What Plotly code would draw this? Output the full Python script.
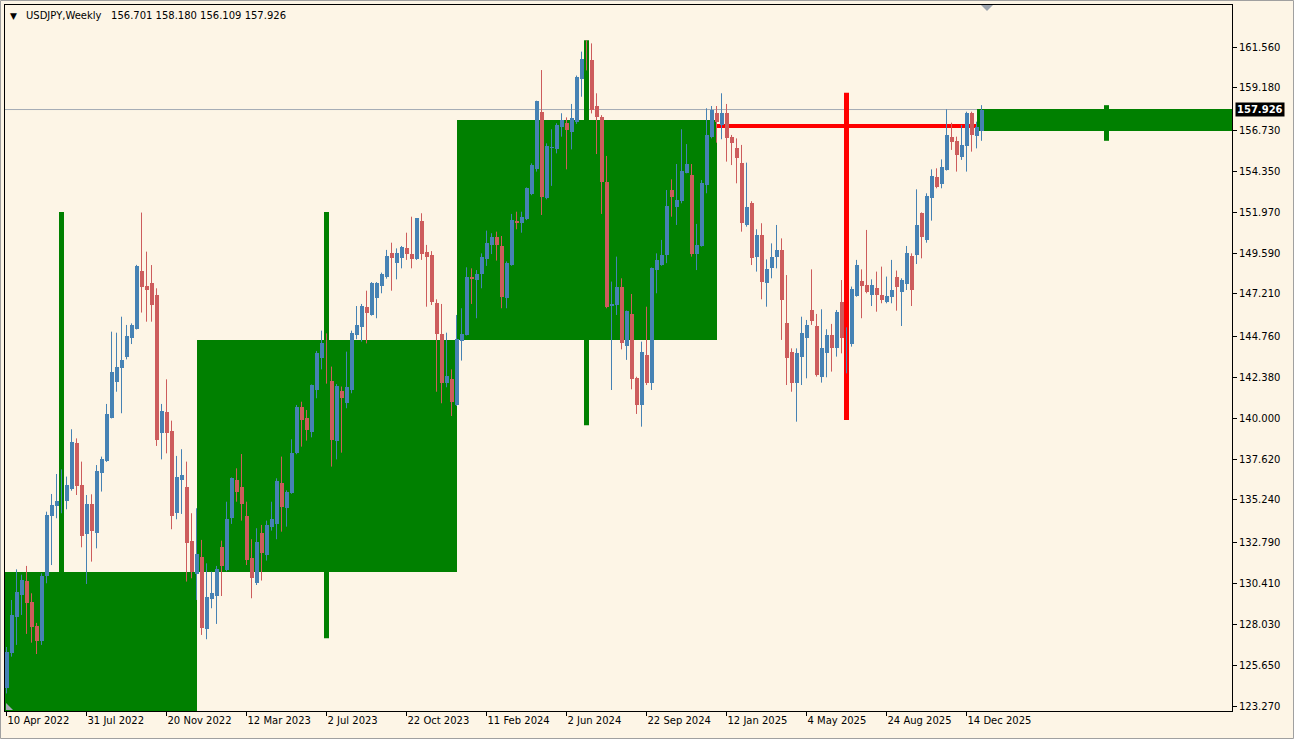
import plotly.graph_objects as go
import pandas as pd

# ---------------- data ----------------
symbol = "USDJPY"
timeframe = "Weekly"
start_date = "2022-04-10"   # first weekly bar on the chart

opens = [124.30, 126.35, 128.46, 129.72, 130.53, 129.30, 127.92, 127.07, 130.83, 134.31,
         134.89, 135.05, 135.20, 135.90, 138.53, 136.11, 133.27, 135.01, 133.34, 136.83,
         137.51, 140.02, 142.08, 142.89, 143.53, 144.63, 145.20, 148.55, 147.67, 147.83,
         147.15, 139.11, 140.33, 139.25, 134.47, 136.40, 135.98, 132.86, 130.94, 131.91,
         127.73, 129.47, 129.66, 132.49, 131.17, 134.18, 136.40, 135.98, 134.31, 131.85,
         130.44, 133.34, 132.05, 133.69, 133.85, 136.21, 134.76, 135.63, 137.95, 140.63,
         139.99, 139.21, 141.63, 143.47, 144.34, 142.16, 138.69, 141.59, 140.86, 141.63,
         144.83, 145.27, 146.43, 145.99, 146.96, 147.67, 148.18, 149.61, 149.03, 149.28,
         149.86, 149.53, 149.22, 151.47, 149.67, 149.48, 146.71, 144.89, 142.02, 142.27,
         140.76, 144.50, 144.83, 148.22, 148.02, 148.37, 149.22, 150.06, 150.50, 150.00,
         146.96, 148.89, 151.47, 151.35, 151.55, 153.02, 154.45, 157.80, 152.77, 155.67,
         155.62, 156.89, 157.16, 156.64, 157.22, 159.68, 160.84, 160.80, 158.13, 157.47,
         153.74, 146.51, 146.57, 147.60, 144.19, 146.05, 142.31, 140.76, 143.67, 142.06,
         148.60, 148.90, 149.48, 153.25, 152.25, 152.61, 154.26, 154.12, 149.53, 150.00,
         153.54, 156.31, 157.75, 157.03, 157.75, 156.31, 155.67, 154.80, 151.22, 152.52,
         149.34, 150.64, 147.87, 148.70, 149.34, 149.77, 145.50, 143.86, 142.02, 143.53,
         144.63, 146.28, 145.35, 142.37, 143.76, 144.83, 144.05, 146.76, 144.34, 144.30,
         147.09, 147.98, 147.73, 147.15, 147.54, 147.15, 146.76, 147.02, 148.18, 147.34,
         147.79, 149.42, 149.48, 151.90, 150.35, 152.77, 153.99, 153.60, 154.41, 156.31,
         156.12, 155.15, 155.81, 157.75, 156.39, 156.701]
highs = [126.70, 129.43, 131.21, 130.90, 131.41, 129.82, 128.10, 130.98, 134.56, 135.59,
         136.75, 137.02, 136.60, 139.35, 138.82, 137.47, 135.53, 135.57, 137.27, 137.76,
         140.82, 145.02, 144.96, 145.89, 145.41, 145.50, 148.90, 151.94, 149.67, 148.89,
         147.54, 140.82, 142.25, 139.85, 137.80, 138.19, 137.47, 134.47, 134.76, 132.92,
         131.56, 131.08, 131.41, 132.88, 135.14, 136.55, 137.08, 137.91, 135.14, 132.96,
         133.60, 133.79, 134.04, 135.14, 136.50, 137.76, 135.80, 138.77, 140.76, 140.95,
         140.47, 141.95, 143.90, 145.08, 144.92, 142.99, 141.98, 141.83, 143.86, 145.08,
         146.51, 146.63, 147.40, 147.90, 147.90, 148.45, 149.77, 150.19, 149.86, 150.00,
         150.77, 151.70, 151.61, 151.90, 150.06, 149.70, 146.90, 146.63, 144.96, 142.83,
         145.99, 146.38, 148.76, 148.70, 148.60, 149.57, 150.89, 150.74, 150.83, 150.58,
         149.10, 151.86, 151.99, 151.99, 153.40, 154.80, 158.44, 160.22, 155.96, 156.78,
         157.13, 157.71, 157.47, 158.25, 159.90, 161.29, 161.95, 161.77, 158.87, 157.60,
         155.23, 147.93, 149.38, 148.12, 146.25, 147.21, 142.40, 144.44, 146.47, 148.75,
         149.57, 150.35, 153.25, 153.87, 154.76, 156.78, 155.92, 154.76, 151.28, 153.83,
         158.00, 158.13, 158.13, 158.87, 158.25, 156.45, 156.25, 155.87, 154.84, 152.60,
         150.97, 151.32, 149.22, 150.15, 151.22, 150.44, 148.31, 144.05, 144.05, 145.89,
         145.70, 148.64, 146.05, 146.32, 145.16, 145.47, 146.28, 148.02, 145.27, 147.64,
         149.19, 148.64, 150.93, 148.06, 148.51, 148.80, 148.22, 149.19, 148.57, 148.12,
         150.00, 149.57, 153.29, 151.95, 153.06, 154.45, 154.51, 155.03, 157.94, 157.16,
         156.35, 157.03, 157.80, 157.80, 157.22, 158.180]
lows = [124.00, 126.14, 126.82, 128.56, 127.46, 126.95, 126.29, 126.82, 130.40, 131.46,
        134.18, 134.47, 134.70, 135.78, 135.53, 132.49, 130.36, 131.66, 132.43, 135.73,
        137.45, 139.98, 141.53, 140.28, 143.41, 144.30, 145.15, 146.13, 145.60, 145.60,
        138.38, 137.60, 137.95, 133.54, 134.12, 134.43, 130.50, 130.69, 129.43, 127.40,
        127.15, 128.95, 128.04, 129.66, 131.10, 133.85, 135.14, 134.04, 131.46, 129.53,
        130.30, 130.56, 131.72, 133.46, 132.96, 133.40, 133.69, 135.60, 137.90, 138.34,
        138.69, 138.88, 141.15, 142.83, 142.00, 137.18, 137.60, 137.99, 140.57, 141.44,
        144.58, 144.44, 144.34, 145.95, 145.80, 147.25, 148.10, 147.40, 148.06, 148.70,
        149.19, 148.70, 149.19, 149.19, 146.47, 146.57, 141.53, 140.86, 141.79, 140.12,
        140.70, 143.34, 144.80, 146.63, 145.80, 147.54, 148.84, 149.53, 149.15, 146.38,
        146.38, 148.85, 150.97, 150.77, 151.50, 152.95, 154.32, 151.80, 152.71, 153.49,
        155.38, 156.35, 154.45, 155.61, 157.09, 158.67, 160.20, 157.70, 155.34, 151.86,
        146.38, 141.63, 145.99, 143.99, 143.38, 141.67, 140.24, 139.50, 141.92, 141.63,
        147.25, 148.85, 149.00, 151.70, 151.22, 152.48, 154.22, 149.38, 148.60, 149.96,
        153.06, 156.25, 156.00, 156.20, 154.90, 154.70, 153.64, 150.83, 151.12, 148.89,
        148.51, 146.90, 146.47, 148.12, 148.70, 144.54, 141.92, 141.53, 139.79, 141.92,
        142.31, 145.41, 142.41, 142.06, 142.37, 142.70, 143.57, 143.76, 142.60, 144.15,
        147.05, 145.80, 147.25, 146.51, 146.18, 146.67, 146.67, 146.67, 146.24, 145.35,
        147.44, 146.51, 148.95, 149.28, 150.19, 151.47, 153.35, 153.35, 154.38, 155.58,
        154.32, 155.00, 154.32, 155.48, 155.67, 156.109]
closes = [126.40, 128.56, 129.91, 130.59, 129.24, 127.84, 127.07, 130.83, 134.37, 134.95,
          135.18, 135.28, 136.11, 138.59, 136.05, 133.15, 135.01, 133.46, 136.93, 137.60,
          140.22, 142.66, 142.95, 143.37, 144.77, 145.41, 148.84, 147.60, 147.44, 146.57,
          138.73, 140.41, 139.11, 134.31, 136.56, 136.69, 132.76, 131.08, 132.10, 127.79,
          129.59, 129.86, 131.23, 131.41, 134.12, 136.50, 135.73, 135.01, 131.75, 130.69,
          132.82, 132.14, 133.79, 134.12, 136.35, 134.81, 135.73, 137.99, 140.63, 139.89,
          139.31, 141.92, 143.76, 144.34, 142.06, 138.73, 141.86, 141.15, 141.79, 144.96,
          145.41, 146.51, 146.13, 147.83, 147.87, 148.37, 149.42, 149.28, 149.61, 149.92,
          149.53, 149.22, 151.61, 149.53, 149.38, 146.76, 144.89, 142.06, 142.45, 140.95,
          144.58, 144.89, 148.18, 148.06, 148.37, 149.34, 150.19, 150.54, 150.06, 147.02,
          149.03, 151.51, 151.32, 151.66, 153.35, 154.70, 158.40, 152.86, 155.81, 155.77,
          157.03, 157.32, 156.74, 157.42, 159.80, 160.84, 160.71, 157.90, 157.47, 153.74,
          146.44, 146.63, 147.60, 144.34, 146.24, 142.25, 140.76, 143.86, 142.02, 148.70,
          149.19, 149.48, 152.32, 152.86, 152.67, 154.36, 154.76, 149.53, 150.06, 153.68,
          156.45, 157.90, 157.22, 157.75, 156.25, 155.96, 155.09, 151.35, 152.25, 149.28,
          150.64, 147.93, 148.64, 149.34, 149.77, 146.86, 143.47, 142.02, 143.76, 144.96,
          145.41, 145.66, 142.50, 144.05, 144.83, 144.05, 146.18, 144.63, 144.44, 147.48,
          148.89, 147.65, 147.34, 147.73, 147.15, 146.86, 147.09, 147.44, 147.64, 148.02,
          149.57, 147.44, 151.22, 150.54, 152.90, 154.07, 153.41, 154.57, 156.45, 156.06,
          155.29, 155.87, 157.75, 156.45, 156.89, 157.926]

# yearly (higher-timeframe) candles overlaid on the chart
htf_years = [2022, 2023, 2024, 2025, 2026]
htf_open = [115.10, 131.06, 144.54, 157.11, 156.70]
htf_close = [131.06, 144.54, 157.32, 156.88, 157.93]
htf_high = [151.97, 151.97, 161.95, 158.90, 158.18]
htf_low = [113.50, 127.20, 139.58, 139.89, 156.11]

y_tick_labels = ["161.560", "159.180", "156.730", "154.350", "151.970", "149.590",
                 "147.210", "144.760", "142.380", "140.000", "137.620", "135.240",
                 "132.790", "130.410", "128.030", "125.650", "123.270"]

# ---------------- styling / layout ----------------
W, H = 1294, 739
PL, PR, PT, PB = 5, 1232, 5, 711          # plot area in pixels
BAR_PX = 5.0                               # pixels per weekly bar
X0 = -0.3
X1 = X0 + (PR - PL) / BAR_PX
Y_MAX, Y_MIN = 164.00, 122.98
px_per_price = (PB - PT) / (Y_MAX - Y_MIN)

BG = "#FDF5E6"
BULL = "#4682B4"
BEAR = "#CD5C5C"
HTF_BULL = "#008000"
HTF_BEAR = "#FF0000"
FONT = "DejaVu Sans"


def px_x(p):
    return (p - PL) / (PR - PL)


def px_y(p):
    return (PB - p) / (PB - PT)


n = len(opens)
dates = pd.date_range(start_date, periods=n, freq="7D")
idx = list(range(n))

fig = go.Figure()

# --- yearly overlay ---
t0 = pd.Timestamp(start_date)
bounds = [int((pd.Timestamp(f"{y}-01-01") - t0).days // 7) for y in htf_years + [htf_years[-1] + 1]]
for k in range(len(htf_years)):
    s, e = bounds[k], bounds[k + 1]
    o, c = htf_open[k], htf_close[k]
    col = HTF_BULL if c >= o else HTF_BEAR
    lo = min(o, c)
    hgt = max(abs(c - o), 1.0 / px_per_price)
    fig.add_trace(go.Bar(x=[(s + e) / 2], base=[lo], y=[hgt], width=[e - s],
                         marker=dict(color=col, line=dict(width=0)),
                         hoverinfo="skip", showlegend=False))
    mid = (s + e) // 2
    fig.add_trace(go.Scatter(x=[mid, mid], y=[htf_low[k], htf_high[k]], mode="lines",
                             line=dict(color=col, width=5),
                             hoverinfo="skip", showlegend=False))

# --- weekly candles ---
min_body = 1.0 / px_per_price
for bull, col in ((True, BULL), (False, BEAR)):
    sel = [i for i in idx if (closes[i] >= opens[i]) == bull]
    wx, wy = [], []
    for i in sel:
        wx += [i, i, None]
        wy += [lows[i], highs[i], None]
    fig.add_trace(go.Scatter(x=wx, y=wy, mode="lines", line=dict(color=col, width=1),
                             hoverinfo="skip", showlegend=False))
    fig.add_trace(go.Bar(x=sel,
                         base=[min(opens[i], closes[i]) for i in sel],
                         y=[max(abs(closes[i] - opens[i]), min_body) for i in sel],
                         width=0.8,
                         marker=dict(color=col, line=dict(width=0)),
                         hoverinfo="skip", showlegend=False))

# --- bid line ---
shapes = [dict(type="line", xref="paper", yref="y", x0=0, x1=1,
               y0=closes[-1], y1=closes[-1], line=dict(color="#A4ABB4", width=1),
               layer="below")]
# chart shift marker (top) and small corner marker (bottom-left)
shapes.append(dict(type="path", xref="paper", yref="paper",
                   path=f"M {px_x(981)} {px_y(5)} L {px_x(993)} {px_y(5)} L {px_x(987)} {px_y(11)} Z",
                   fillcolor="#9CA3AD", line=dict(width=0), layer="above"))
shapes.append(dict(type="path", xref="paper", yref="paper",
                   path=f"M {px_x(6)} {px_y(703)} L {px_x(6)} {px_y(710)} L {px_x(13)} {px_y(710)} Z",
                   fillcolor="#A8A8B8", line=dict(width=0), layer="above"))
# outer window frame
shapes.append(dict(type="rect", xref="paper", yref="paper",
                   x0=px_x(0.5), x1=px_x(W - 0.5), y0=px_y(H - 0.5), y1=px_y(0.5),
                   line=dict(color="#A0A0A0", width=1), layer="above"))

tick_idx = list(range(0, n, 16))
tick_txt = [f"{dates[i].day} {dates[i].strftime('%b %Y')}" for i in tick_idx]

annotations = [
    dict(xref="paper", yref="paper", x=px_x(8), y=px_y(16), xanchor="left", yanchor="middle",
         text="▼", showarrow=False, font=dict(family=FONT, size=9, color="black")),
    dict(xref="paper", yref="paper", x=px_x(24), y=px_y(16), xanchor="left", yanchor="middle",
         text=f"{symbol},{timeframe}\u00a0\u00a0 {opens[-1]:.3f} {highs[-1]:.3f} {lows[-1]:.3f} {closes[-1]:.3f}",
         showarrow=False, font=dict(family=FONT, size=10, color="black")),
    dict(xref="paper", yref="y", x=px_x(1235), y=closes[-1], xanchor="left", yanchor="middle",
         text=f"<b>{closes[-1]:.3f}</b>", showarrow=False, bgcolor="black", borderpad=1,
         font=dict(family=FONT, size=10, color="white")),
]

fig.update_layout(
    width=W, height=H,
    margin=dict(l=PL, r=W - PR, t=PT, b=H - PB, autoexpand=False),
    paper_bgcolor=BG, plot_bgcolor=BG,
    barmode="overlay", bargap=0,
    showlegend=False,
    hovermode=False,
    shapes=shapes,
    annotations=annotations,
    xaxis=dict(range=[X0, X1], showgrid=False, zeroline=False,
               showline=True, mirror=True, linecolor="black", linewidth=1,
               tickmode="array", tickvals=tick_idx, ticktext=tick_txt,
               ticks="outside", ticklen=4, tickcolor="black", tickwidth=1,
               ticklabelposition="outside right",
               tickfont=dict(family=FONT, size=10, color="black"),
               fixedrange=True),
    yaxis=dict(range=[Y_MIN, Y_MAX], side="right", showgrid=False, zeroline=False,
               showline=True, mirror=True, linecolor="black", linewidth=1,
               tickmode="array", tickvals=[float(v) for v in y_tick_labels], ticktext=y_tick_labels,
               ticks="outside", ticklen=4, tickcolor="black", tickwidth=1,
               tickfont=dict(family=FONT, size=10, color="black"),
               fixedrange=True),
)

fig.write_html("out.html",
               config={"displayModeBar": False, "staticPlot": True},
               post_script="document.body.style.margin='0px';"
                           "document.body.style.padding='0px';"
                           "document.body.style.overflow='hidden';"
                           "document.body.style.background='" + BG + "';")
